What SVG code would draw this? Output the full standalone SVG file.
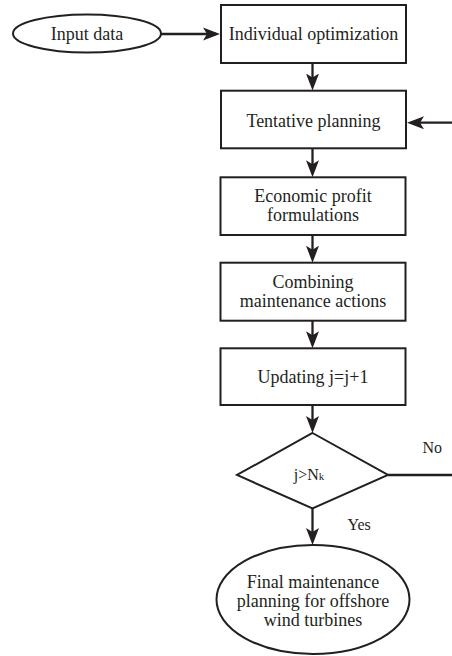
<svg xmlns="http://www.w3.org/2000/svg" width="452" height="656" viewBox="0 0 452 656">
<defs>
<style>
.n{fill:#fff;stroke:#231f20;stroke-width:2}
.t{font-family:"Liberation Serif","Times New Roman",serif;font-size:18px;fill:#231f20;text-anchor:middle}
.s{font-family:"Liberation Serif","Times New Roman",serif;font-size:16px;fill:#231f20}
.c{fill:none;stroke:#231f20;stroke-width:2.3}
</style>
<marker id="ah" markerUnits="userSpaceOnUse" markerWidth="18" markerHeight="14" refX="13" refY="7" orient="auto">
<path d="M0,0.5 L17,7 L0,13.5 L4,7 Z" fill="#231f20"/>
</marker>
</defs>
<rect width="452" height="656" fill="#fff"/>
<g id="connectors">
<line class="c" x1="161" y1="34" x2="216" y2="34" marker-end="url(#ah)"/>
<line class="c" x1="312.5" y1="63" x2="312.5" y2="86.5" marker-end="url(#ah)"/>
<line class="c" x1="452" y1="122.7" x2="411" y2="122.7" marker-end="url(#ah)"/>
<line class="c" x1="312.5" y1="148.3" x2="312.5" y2="173.3" marker-end="url(#ah)"/>
<line class="c" x1="312.5" y1="235" x2="312.5" y2="258.7" marker-end="url(#ah)"/>
<line class="c" x1="312.5" y1="320.7" x2="312.5" y2="344.3" marker-end="url(#ah)"/>
<line class="c" x1="312.5" y1="405" x2="312.5" y2="429" marker-end="url(#ah)"/>
<line class="c" x1="388" y1="475" x2="452" y2="475"/>
<line class="c" x1="312.5" y1="508.5" x2="312.5" y2="541" marker-end="url(#ah)"/>
<text class="s" x="422.5" y="452.7">No</text>
<text class="s" x="347.5" y="530">Yes</text>
</g>
<g id="input">
<ellipse class="n" cx="87" cy="33.5" rx="74" ry="19"/>
<text class="t" x="87" y="39.5">Input data</text>
</g>
<g id="individual">
<rect class="n" x="221" y="5" width="185" height="58"/>
<text class="t" x="313.5" y="39.5">Individual optimization</text>
</g>
<g id="tentative">
<rect class="n" x="221" y="90.7" width="185" height="57.6"/>
<text class="t" x="313.5" y="126.5">Tentative planning</text>
</g>
<g id="economic">
<rect class="n" x="220.5" y="177.3" width="185" height="57.7"/>
<text class="t" x="313" y="201.5">Economic profit</text>
<text class="t" x="313" y="220.8">formulations</text>
</g>
<g id="combining">
<rect class="n" x="220.5" y="262.7" width="185" height="58"/>
<text class="t" x="313" y="287.8">Combining</text>
<text class="t" x="313" y="307.2">maintenance actions</text>
</g>
<g id="updating">
<rect class="n" x="220.5" y="348.3" width="185" height="56.7"/>
<text class="t" x="313" y="383.3">Updating j=j+1</text>
</g>
<g id="decision">
<polygon class="n" points="312.5,433 388,475 312.5,508.5 237,475"/>
<text class="s" x="309" y="480" text-anchor="middle">j&gt;N<tspan font-size="11">k</tspan></text>
</g>
<g id="final">
<ellipse class="n" cx="313" cy="599.5" rx="96.5" ry="54.5"/>
<text class="t" x="313" y="587.8">Final maintenance</text>
<text class="t" x="313" y="606.8">planning for offshore</text>
<text class="t" x="313" y="625.5">wind turbines</text>
</g>
</svg>
